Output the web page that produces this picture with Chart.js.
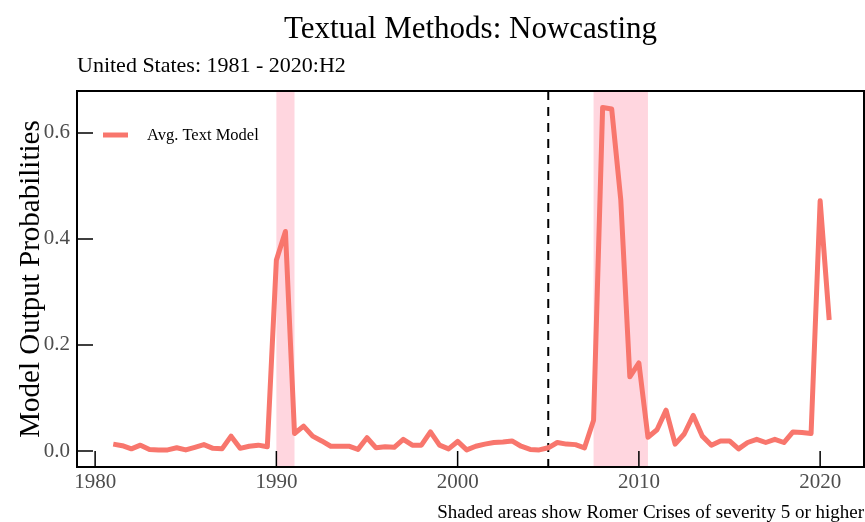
<!DOCTYPE html>
<html>
<head>
<meta charset="utf-8">
<script src="https://cdn.jsdelivr.net/npm/chart.js@4.4.1/dist/chart.umd.min.js"></script>
<style>
  html, body { margin: 0; padding: 0; background: #fff; overflow: hidden; }
  canvas { display: block; }
</style>
</head>
<body>
<canvas id="nowcast" width="865" height="522"></canvas>
<script>
// half-yearly model output, H1 and H2 for each year
const years = [1981, 1982, 1983, 1984, 1985, 1986, 1987, 1988, 1989, 1990,
               1991, 1992, 1993, 1994, 1995, 1996, 1997, 1998, 1999, 2000,
               2001, 2002, 2003, 2004, 2005, 2006, 2007, 2008, 2009, 2010,
               2011, 2012, 2013, 2014, 2015, 2016, 2017, 2018, 2019, 2020];
const firstHalf = [0.013, 0.004, 0.003, 0.002, 0.002, 0.012, 0.004, 0.005, 0.011, 0.360,
                   0.033, 0.028, 0.009, 0.009, 0.025, 0.008, 0.022, 0.011, 0.011, 0.018,
                   0.009, 0.016, 0.019, 0.003, 0.006, 0.013, 0.006, 0.648, 0.474, 0.166,
                   0.040, 0.013, 0.067, 0.011, 0.019, 0.016, 0.016, 0.016, 0.035, 0.472];
const secondHalf = [0.010, 0.011, 0.002, 0.006, 0.007, 0.005, 0.028, 0.009, 0.008, 0.414,
                    0.047, 0.019, 0.009, 0.003, 0.006, 0.007, 0.011, 0.036, 0.004, 0.002,
                    0.013, 0.017, 0.009, 0.002, 0.016, 0.012, 0.058, 0.645, 0.140, 0.026,
                    0.077, 0.032, 0.028, 0.019, 0.004, 0.022, 0.022, 0.036, 0.033, 0.247];

// Romer crises (severity >= 5) and the sample split
const crisisStart = [1990, 2007.5];
const crisisEnd = [1991, 2010.5];
const splitYear = 2005;

const xTicks = [1980, 1990, 2000, 2010, 2020];
const yTicks = [0, 0.2, 0.4, 0.6];

const seriesName = 'Avg. Text Model';
const lineColor = '#F8766D';
const serif = '"Liberation Serif", "DejaVu Serif", serif';

var points = [];
years.forEach(function (yr, i) {
  points.push({ x: yr, y: firstHalf[i] });
  points.push({ x: yr + 0.5, y: secondHalf[i] });
});

// shaded bands + dashed split line, under the data
const bandsPlugin = {
  id: 'bands',
  beforeDatasetsDraw(chart) {
    const { ctx, chartArea, scales } = chart;
    ctx.save();
    ctx.fillStyle = '#FFD6DF';
    for (let i = 0; i < crisisStart.length; i++) {
      const x0 = scales.x.getPixelForValue(crisisStart[i]);
      const x1 = scales.x.getPixelForValue(crisisEnd[i]);
      ctx.fillRect(x0, chartArea.top, x1 - x0, chartArea.bottom - chartArea.top);
    }
    const xs = scales.x.getPixelForValue(splitYear);
    ctx.strokeStyle = '#000';
    ctx.lineWidth = 2;
    ctx.setLineDash([9, 7]);
    ctx.beginPath();
    ctx.moveTo(xs, chartArea.top);
    ctx.lineTo(xs, chartArea.bottom);
    ctx.stroke();
    ctx.restore();
  }
};

// frame, inward ticks, legend, titles and caption
const decorPlugin = {
  id: 'decor',
  afterDraw(chart) {
    const { ctx, chartArea, scales } = chart;
    const a = chartArea;
    ctx.save();

    ctx.strokeStyle = '#000';
    ctx.lineWidth = 2;
    ctx.strokeRect(a.left, a.top, a.right - a.left, a.bottom - a.top);

    ctx.lineWidth = 1.5;
    ctx.beginPath();
    xTicks.forEach(function (v) {
      const px = scales.x.getPixelForValue(v);
      ctx.moveTo(px, a.bottom);
      ctx.lineTo(px, a.bottom - 16);
    });
    yTicks.forEach(function (v) {
      const py = scales.y.getPixelForValue(v);
      ctx.moveTo(a.left, py);
      ctx.lineTo(a.left + 16, py);
    });
    ctx.stroke();

    // legend
    ctx.strokeStyle = lineColor;
    ctx.lineWidth = 5;
    ctx.beginPath();
    ctx.moveTo(a.left + 26, a.top + 44);
    ctx.lineTo(a.left + 51, a.top + 44);
    ctx.stroke();
    ctx.fillStyle = '#000';
    ctx.font = '16.5px ' + serif;
    ctx.textBaseline = 'middle';
    ctx.textAlign = 'left';
    ctx.fillText(seriesName, a.left + 70, a.top + 45);

    // title + subtitle
    ctx.textBaseline = 'alphabetic';
    ctx.textAlign = 'center';
    ctx.font = '31px ' + serif;
    ctx.fillText('Textual Methods: Nowcasting', (a.left + a.right) / 2, 38);
    ctx.textAlign = 'left';
    ctx.font = '22px ' + serif;
    ctx.fillText('United States: 1981 - 2020:H2', a.left, 72);

    // caption
    ctx.textAlign = 'right';
    ctx.font = '19px ' + serif;
    ctx.fillText('Shaded areas show Romer Crises of severity 5 or higher', 864, 518);

    // y axis title
    ctx.translate(39, (a.top + a.bottom) / 2);
    ctx.rotate(-Math.PI / 2);
    ctx.textAlign = 'center';
    ctx.font = '29px ' + serif;
    ctx.fillText('Model Output Probabilities', 0, 0);
    ctx.restore();
  }
};

new Chart(document.getElementById('nowcast'), {
  type: 'line',
  data: {
    datasets: [{
      label: seriesName,
      data: points,
      borderColor: lineColor,
      backgroundColor: lineColor,
      borderWidth: 5,
      pointRadius: 0,
      tension: 0,
      fill: false,
      borderJoinStyle: 'round',
      borderCapStyle: 'butt'
    }]
  },
  options: {
    responsive: false,
    animation: false,
    devicePixelRatio: 1,
    layout: { padding: { top: 91, left: 0, right: 1, bottom: 25 } },
    plugins: {
      legend: { display: false },
      title: { display: false },
      tooltip: { enabled: false }
    },
    scales: {
      x: {
        type: 'linear',
        min: 1979,
        max: 2022.42,
        afterFit: function (scale) { scale.height = 30; },
        afterBuildTicks: function (scale) {
          scale.ticks = xTicks.map(function (v) { return { value: v }; });
        },
        grid: { display: false, drawTicks: false },
        border: { display: false },
        ticks: {
          padding: 3,
          color: '#4D4D4D',
          font: { family: serif, size: 21 },
          callback: function (v) { return String(v); }
        }
      },
      y: {
        min: -0.0302,
        max: 0.679,
        afterFit: function (scale) { scale.width = 77; },
        afterBuildTicks: function (scale) {
          scale.ticks = yTicks.map(function (v) { return { value: v }; });
        },
        grid: { display: false, drawTicks: false },
        border: { display: false },
        ticks: {
          padding: 7,
          color: '#4D4D4D',
          font: { family: serif, size: 21 },
          callback: function (v) { return Number(v).toFixed(1); }
        }
      }
    }
  },
  plugins: [bandsPlugin, decorPlugin]
});
</script>
</body>
</html>
